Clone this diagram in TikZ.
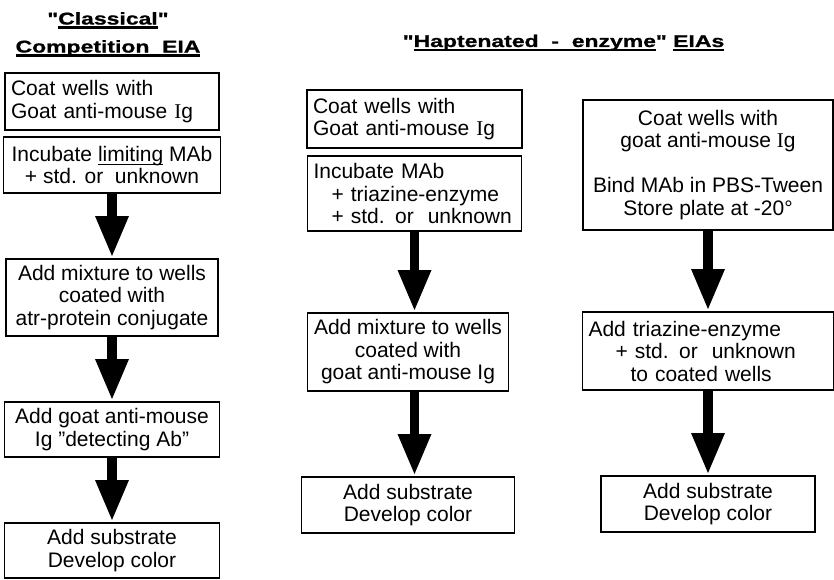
\documentclass[tikz,border=0pt]{standalone}
\usepackage{fontspec}
\setmainfont{Liberation Sans}
\newfontfamily\titlefont{Liberation Sans}[FakeStretch=1.35, FakeBold=1]
\newfontfamily\romanI{Liberation Serif}
\usetikzlibrary{arrows.meta, positioning}
\newcommand\ulword[2][2.2pt]{\setbox0\hbox{#2}\rlap{\rule[-4pt]{\wd0}{#1}}\box0\relax}

\begin{document}
\begin{tikzpicture}[x=1pt, y=-1pt,
  stepbox/.style={draw, line width=1.5pt, outer sep=0pt, inner xsep=8pt, inner ysep=0pt,
    align=center, font=\fontsize{21}{22.5}\selectfont},
  leftbox/.style={stepbox, inner xsep=6pt, align=left},
  heading/.style={inner sep=0pt, align=center, font=\titlefont\bfseries\fontsize{17}{28}\selectfont},
  fatarrow/.style={line width=9.5pt, shorten <=1pt, shorten >=3pt,
    -{Triangle[width=34pt, length=40pt, line width=0pt]}}]
  \useasboundingbox (0,0) rectangle (834,580);

  \node[heading, anchor=north] (classical) at (108,12) {"\ulword{Classical}"\\\ulword{Competition\ \ EIA}};
  \node[heading, anchor=base] (haptenated) at (563.5,47) {"\ulword{Haptenated\ \ -\ \ enzyme}"\ \ulword{EIAs}};

  \node[leftbox, text width=202pt, minimum height=57pt] (coatL) at (112,101.5)
    {Coat wells with\\Goat anti-mouse {\romanI I}g};
  \node[stepbox, minimum width=214pt, minimum height=56pt, below=7pt of coatL] (incubL)
    {Incubate \ulword[1.2pt]{limiting} MAb\\+ std. or\ \ unknown};
  \node[stepbox, minimum width=212pt, minimum height=77pt, below=66pt of incubL] (mixL)
    {Add mixture to wells\\coated with\\atr-protein conjugate};
  \node[stepbox, minimum width=215pt, minimum height=55pt, below=66pt of mixL] (detectL)
    {Add goat anti-mouse\\Ig "detecting Ab"};
  \node[stepbox, minimum width=215pt, minimum height=55pt, below=66pt of detectL] (substL)
    {Add substrate\\Develop color};

  \node[leftbox, text width=203pt, minimum height=58pt] (coatM) at (414.5,119)
    {Coat wells with\\Goat anti-mouse {\romanI I}g};
  \node[leftbox, text width=202pt, minimum height=75pt, below=8pt of coatM] (incubM)
    {Incubate MAb\\\hspace*{18pt}+ triazine-enzyme\\\hspace*{18pt}+ std. or\ \ unknown};
  \node[stepbox, inner xsep=6pt, minimum width=201pt, minimum height=78pt,
    below=82pt of incubM.south west, anchor=north west] (mixM)
    {Add mixture to wells\\coated with\\goat anti-mouse Ig};
  \node[stepbox, minimum width=213pt, minimum height=56pt, below=86pt of mixM] (substM)
    {Add substrate\\Develop color};

  \node[stepbox, minimum width=250pt, minimum height=130pt] (coatR) at (708,165)
    {Coat wells with\\goat anti-mouse {\romanI I}g\\[22.5pt]Bind MAb in PBS-Tween\\Store plate at -20°};
  \node[leftbox, text width=239pt, minimum height=78pt, below=82pt of coatR] (addR)
    {Add triazine-enzyme\\\hspace*{27pt}+ std. or\ \ unknown\\\hspace*{42pt}to coated wells};
  \node[stepbox, minimum width=214pt, minimum height=56pt, below=86pt of addR] (substR)
    {Add substrate\\Develop color};

  \draw[fatarrow] (incubL) -- (mixL);
  \draw[fatarrow] (mixL) -- (detectL);
  \draw[fatarrow] (detectL) -- (substL);
  \draw[fatarrow] (incubM.south) -- (incubM.south |- mixM.north);
  \draw[fatarrow] (mixM.south -| incubM.south) -- (substM.north -| incubM.south);
  \draw[fatarrow] (coatR) -- (addR);
  \draw[fatarrow] (addR.south) -- (addR.south |- substR.north);
\end{tikzpicture}
\end{document}
